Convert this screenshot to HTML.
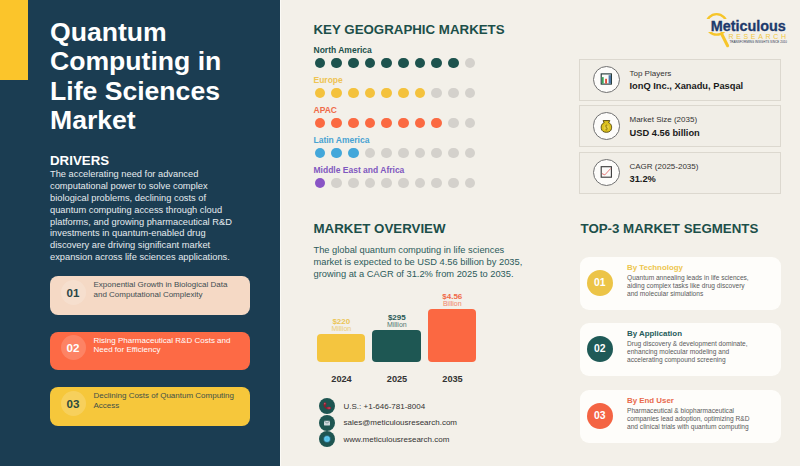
<!DOCTYPE html>
<html><head><meta charset="utf-8">
<style>
*{margin:0;padding:0;box-sizing:border-box}
html,body{width:800px;height:466px;overflow:hidden}
body{position:relative;background:#f3f0e9;font-family:"Liberation Sans",sans-serif}
.a{position:absolute;white-space:nowrap}
#left{position:absolute;left:0;top:0;width:280px;height:466px;background:#1b3d52}
#acc{position:absolute;left:0;top:0;width:28px;height:80px;background:#fbc52b}
#title{position:absolute;left:50px;top:18px;color:#fff;font-weight:bold;font-size:26.6px;line-height:29.27px}
#drv{left:50px;top:153px;color:#fff;font-weight:bold;font-size:13.3px}
#drvtxt{position:absolute;left:50px;top:169px;color:#e6ebef;font-size:9.3px;line-height:11.87px;white-space:nowrap}
.card{position:absolute;left:50px;width:200px;height:38.5px;border-radius:8px}
.card .c{position:absolute;left:60.5px;top:3.7px;width:25px;height:25px;border-radius:50%;background:rgba(255,255,255,.17)}
.card .n{position:absolute;left:0;top:0;width:25px;height:25px;line-height:25px;text-align:center;font-weight:bold;font-size:11.6px}
.card .t{position:absolute;left:43.5px;top:4.1px;font-size:8px;line-height:9.7px;white-space:nowrap}
h2{position:absolute;font-weight:bold;font-size:13.3px;color:#1c4f49;white-space:nowrap}
.geo{position:absolute;left:313.5px;font-weight:bold;font-size:8.5px;white-space:nowrap}
.dots{position:absolute;left:314.8px;height:11px}
.dots i{position:absolute;top:0;width:10.4px;height:10.4px;border-radius:50%;background:#d4d1cc}
.stat{position:absolute;left:579px;width:201.5px;height:41.6px;border:1.7px solid #dcd8cf;background:#f1eee7}
.stat .ic{position:absolute;left:12.8px;top:5.8px;width:27.5px;height:27.5px;border-radius:50%;border:1.1px solid #707070;background:#fdfcfa}
.stat .l1{position:absolute;left:49.5px;top:8.5px;font-size:8px;color:#333;white-space:nowrap}
.stat .l2{position:absolute;left:49.5px;top:21.2px;font-size:9.3px;font-weight:bold;color:#1a1a1a;white-space:nowrap}
.seg{position:absolute;left:580px;width:200.8px;height:53.5px;border-radius:9px;background:#fefdfa}
.seg .c{position:absolute;left:6.5px;top:13px;width:26.5px;height:26.5px;border-radius:50%;color:#fff;font-weight:bold;font-size:10.4px;text-align:center;line-height:26.5px}
.seg .h{position:absolute;left:47px;top:6px;font-weight:bold;font-size:7.9px;white-space:nowrap}
.seg .t{position:absolute;left:47px;top:17.9px;font-size:6.6px;line-height:8px;color:#5a5a5a;white-space:nowrap}
.bar{position:absolute;width:48.9px;border-radius:4px}
.bl{position:absolute;text-align:center;width:60px;white-space:nowrap}
.bl b{display:block;font-size:8px;line-height:8px;margin-bottom:-1px}
.bl span{display:block;font-size:7px;line-height:7px;opacity:.8}
.yr{position:absolute;top:373.8px;font-weight:bold;font-size:9.2px;color:#333;width:50px;text-align:center}
.ct{position:absolute;left:318.5px;width:16px;height:16px;border-radius:50%;background:#1e5551}
.ctt{position:absolute;left:343.5px;font-size:8px;color:#333;white-space:nowrap}
</style></head><body>
<div id="left"></div>
<div id="acc"></div><div style="position:absolute;left:280px;top:0;width:1px;height:466px;background:#fbfaf6"></div>
<div id="title">Quantum<br>Computing in<br>Life Sciences<br>Market</div>
<div class="a" id="drv">DRIVERS</div>
<div id="drvtxt">The accelerating need for advanced<br>computational power to solve complex<br>biological problems, declining costs of<br>quantum computing access through cloud<br>platforms, and growing pharmaceutical R&amp;D<br>investments in quantum-enabled drug<br>discovery are driving significant market<br>expansion across life sciences applications.</div>

<div class="card" style="top:276px;background:#f5d9c5"><div class="c" style="left:10.5px"><div class="n" style="color:#2b4646">01</div></div><div class="t" style="color:#3e4d52">Exponential Growth in Biological Data<br>and Computational Complexity</div></div>
<div class="card" style="top:331.5px;background:#fd6a45"><div class="c" style="left:10.5px"><div class="n" style="color:#fff">02</div></div><div class="t" style="color:#fff">Rising Pharmaceutical R&amp;D Costs and<br>Need for Efficiency</div></div>
<div class="card" style="top:387px;background:#f6c73b"><div class="c" style="left:10.5px"><div class="n" style="color:#2b4a3e">03</div></div><div class="t" style="color:#3f5048">Declining Costs of Quantum Computing<br>Access</div></div>

<h2 style="left:313.5px;top:21.8px">KEY GEOGRAPHIC MARKETS</h2>
<div class="geo" style="top:45.1px;color:#1d504b">North America</div>
<div class="dots" style="top:58.0px"><i style="left:0.00px;background:#1d534e"></i><i style="left:16.67px;background:#1d534e"></i><i style="left:33.33px;background:#1d534e"></i><i style="left:50.00px;background:#1d534e"></i><i style="left:66.67px;background:#1d534e"></i><i style="left:83.34px;background:#1d534e"></i><i style="left:100.00px;background:#1d534e"></i><i style="left:116.67px;background:#1d534e"></i><i style="left:133.34px;background:#1d534e"></i><i style="left:150.00px"></i></div>
<div class="geo" style="top:75.1px;color:#eec352">Europe</div>
<div class="dots" style="top:88.0px"><i style="left:0.00px;background:#f4c23d"></i><i style="left:16.67px;background:#f4c23d"></i><i style="left:33.33px;background:#f4c23d"></i><i style="left:50.00px;background:#f4c23d"></i><i style="left:66.67px;background:#f4c23d"></i><i style="left:83.34px;background:#f4c23d"></i><i style="left:100.00px;background:#f4c23d"></i><i style="left:116.67px"></i><i style="left:133.34px"></i><i style="left:150.00px"></i></div>
<div class="geo" style="top:105.1px;color:#ef6a48">APAC</div>
<div class="dots" style="top:118.0px"><i style="left:0.00px;background:#fb6a42"></i><i style="left:16.67px;background:#fb6a42"></i><i style="left:33.33px;background:#fb6a42"></i><i style="left:50.00px;background:#fb6a42"></i><i style="left:66.67px;background:#fb6a42"></i><i style="left:83.34px;background:#fb6a42"></i><i style="left:100.00px;background:#fb6a42"></i><i style="left:116.67px;background:#fb6a42"></i><i style="left:133.34px"></i><i style="left:150.00px"></i></div>
<div class="geo" style="top:135.1px;color:#48a2d2">Latin America</div>
<div class="dots" style="top:148.0px"><i style="left:0.00px;background:#43a7da"></i><i style="left:16.67px;background:#43a7da"></i><i style="left:33.33px;background:#43a7da"></i><i style="left:50.00px"></i><i style="left:66.67px"></i><i style="left:83.34px"></i><i style="left:100.00px"></i><i style="left:116.67px"></i><i style="left:133.34px"></i><i style="left:150.00px"></i></div>
<div class="geo" style="top:165.1px;color:#7f58bf">Middle East and Africa</div>
<div class="dots" style="top:178.0px"><i style="left:0.00px;background:#8955c5"></i><i style="left:16.67px"></i><i style="left:33.33px"></i><i style="left:50.00px"></i><i style="left:66.67px"></i><i style="left:83.34px"></i><i style="left:100.00px"></i><i style="left:116.67px"></i><i style="left:133.34px"></i><i style="left:150.00px"></i></div>


<h2 style="left:313.5px;top:220.9px">MARKET OVERVIEW</h2>
<div class="a" style="left:313.5px;top:245.4px;font-size:9.3px;line-height:11.8px;color:#2b5b5b">The global quantum computing in life sciences<br>market is expected to be USD 4.56 billion by 2035,<br>growing at a CAGR of 31.2% from 2025 to 2035.</div>

<h2 style="left:580.5px;top:220.9px">TOP-3 MARKET SEGMENTS</h2>

<!-- logo -->
<svg class="a" style="left:700px;top:5px" width="40" height="45" viewBox="0 0 40 45">
<circle cx="16.6" cy="19.4" r="10.25" fill="none" stroke="#f6c52a" stroke-width="2.3"/>
<path d="M21.8 29.3 L27.6 40.8" stroke="#f6c52a" stroke-width="3" stroke-linecap="round"/>
</svg>
<div class="a" style="left:705px;top:18.8px;width:83px;height:13.4px;background:#f3f0e9"></div>
<div class="a" style="left:710.7px;top:17.6px;font-weight:bold;font-size:14.4px;color:#1d3a6c;line-height:17px;transform:scaleY(1.06);transform-origin:0 13px;-webkit-text-stroke:.3px #1d3a6c">Meticulous</div>
<div class="a" style="left:728.5px;top:32.6px;font-size:7px;color:#f1c73e;letter-spacing:2.65px;line-height:7px">RESEARCH</div>
<div class="a" style="left:729.5px;top:40.6px;font-size:3px;color:#2a3550;line-height:3px;letter-spacing:.02px">TRANSFORMING INSIGHTS SINCE 2010</div>
<!-- stats -->
<div class="stat" style="top:59px"><div class="ic"><svg width="26" height="26" viewBox="0 0 26 26" style="position:absolute;left:0;top:0"><rect x="7.2" y="6.9" width="10.2" height="10.2" fill="#fcfbf9" stroke="#1f3535" stroke-width="1.1"/><rect x="7.9" y="10.1" width="1.8" height="6.5" fill="#3aa85a"/><rect x="11.1" y="11.8" width="1.9" height="4.8" fill="#e2503c"/><rect x="14.6" y="8.2" width="2.4" height="8.4" fill="#4d78a6"/></svg></div><div class="l1">Top Players</div><div class="l2">IonQ Inc., Xanadu, Pasqal</div></div>
<div class="stat" style="top:105.4px"><div class="ic"><svg width="26" height="26" viewBox="0 0 26 26" style="position:absolute;left:0;top:0"><g transform="translate(0.2,1)"><path d="M8.9 6.6 H15.6 L14.4 8.6 C17.4 10 17.6 12.6 17.3 14.6 C16.9 17 15 18.3 12.2 18.3 C9.4 18.3 7.5 17 7.1 14.6 C6.8 12.6 7 10 10 8.6 Z" fill="#dcc11c" stroke="#4d3f05" stroke-width=".9" stroke-linejoin="round"/><ellipse cx="12.2" cy="13.6" rx="2.6" ry="3" fill="#e8d040"/><path d="M13.3 11.4 C12.6 10.9 11 11 11 12.2 C11 13.5 13.4 13.2 13.4 14.8 C13.4 16 11.7 16 11 15.5 M12.2 10.6 V16.6" fill="none" stroke="#8a7400" stroke-width=".55"/></g></svg></div><div class="l1">Market Size (2035)</div><div class="l2">USD 4.56 billion</div></div>
<div class="stat" style="top:152.2px"><div class="ic"><svg width="26" height="26" viewBox="0 0 26 26" style="position:absolute;left:0;top:0"><rect x="7.2" y="6.7" width="10.2" height="10.5" fill="#fbfaf8" stroke="#383838" stroke-width="1.1"/><path d="M8 13.6 L10.8 14.9 L16.8 8.4" fill="none" stroke="#e46a6a" stroke-width=".9"/></svg></div><div class="l1">CAGR (2025-2035)</div><div class="l2">31.2%</div></div>

<!-- segments -->
<div class="seg" style="top:256.5px"><div class="c" style="background:#ecc447">01</div><div class="h" style="color:#edc64e">By Technology</div><div class="t">Quantum annealing leads in life sciences,<br>aiding complex tasks like drug discovery<br>and molecular simulations</div></div>
<div class="seg" style="top:322.5px"><div class="c" style="background:#1f5a57">02</div><div class="h" style="color:#265c5a">By Application</div><div class="t">Drug discovery &amp; development dominate,<br>enhancing molecular modeling and<br>accelerating compound screening</div></div>
<div class="seg" style="top:389.6px"><div class="c" style="background:#f46443">03</div><div class="h" style="color:#e96a4c">By End User</div><div class="t">Pharmaceutical &amp; biopharmaceutical<br>companies lead adoption, optimizing R&amp;D<br>and clinical trials with quantum computing</div></div>

<!-- bars -->
<div class="bar" style="left:316.5px;top:334.3px;height:27.8px;background:#f4c53f"></div>
<div class="bar" style="left:372px;top:329.5px;height:32.6px;background:#1e5753"></div>
<div class="bar" style="left:427.5px;top:308.8px;height:53.3px;background:#fb6842"></div>
<div class="bl" style="left:311.3px;top:317.7px;color:#ebc555"><b>$220</b><span>Million</span></div>
<div class="bl" style="left:366.8px;top:313.8px;color:#285855"><b>$295</b><span>Million</span></div>
<div class="bl" style="left:422.3px;top:293px;color:#f06a48"><b>$4.56</b><span>Billion</span></div>
<div class="yr" style="left:316.5px">2024</div>
<div class="yr" style="left:372px">2025</div>
<div class="yr" style="left:427.5px">2035</div>

<!-- contacts -->
<div class="ct" style="top:398px"><svg width="16" height="16" viewBox="0 0 16 16"><path d="M5 6.5 Q5.4 9.6 8.6 10.6" fill="none" stroke="#8f1a2c" stroke-width="1.3"/><ellipse cx="6" cy="6" rx="1.4" ry="1.7" fill="#9a1d30"/><ellipse cx="9.8" cy="10.1" rx="2.3" ry="1.3" fill="#a82238"/><ellipse cx="5.8" cy="5.6" rx=".6" ry=".8" fill="#c86a7a"/><ellipse cx="10.2" cy="10" rx="1.1" ry=".5" fill="#c8607a"/></svg></div>
<div class="ct" style="top:414.5px"><svg width="16" height="16" viewBox="0 0 16 16"><rect x="5" y="5.8" width="6" height="4.6" rx=".4" fill="#cfd8dc"/><path d="M5.3 6.2 L8 8.2 L10.7 6.2" fill="none" stroke="#4a6a70" stroke-width=".6"/></svg></div>
<div class="ct" style="top:431px"><svg width="16" height="16" viewBox="0 0 16 16"><circle cx="8" cy="8" r="3.5" fill="#62cdf0" stroke="#184a5c" stroke-width=".7"/><path d="M4.8 8 H11.2 M8 4.8 V11.2" stroke="#3aa8d0" stroke-width=".4"/></svg></div>
<div class="ctt" style="top:401.7px">U.S.: +1-646-781-8004</div>
<div class="ctt" style="top:418.2px">sales@meticulousresearch.com</div>
<div class="ctt" style="top:434.7px">www.meticulousresearch.com</div>
</body></html>
